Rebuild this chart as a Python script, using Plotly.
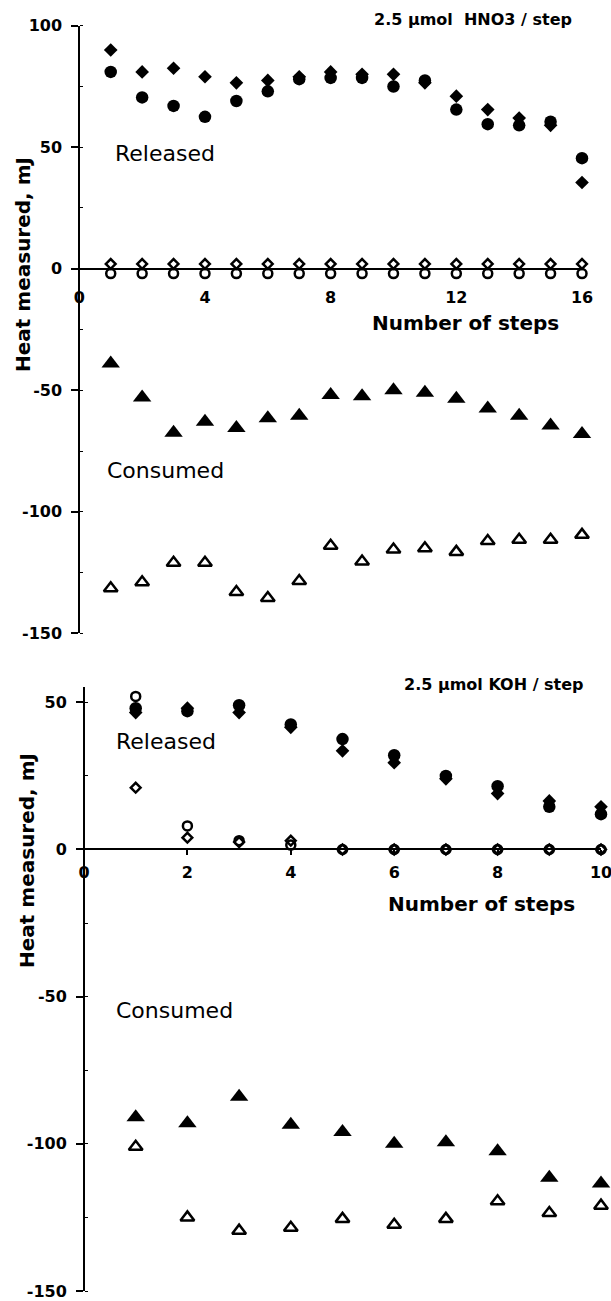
import plotly.graph_objects as go

W, H = 611, 1301

# ---------------- data: top panel (2.5 umol HNO3 / step) ----------------
steps_hno3 = [1, 2, 3, 4, 5, 6, 7, 8, 9, 10, 11, 12, 13, 14, 15, 16]
released_circle_hno3 = [81, 70.5, 67, 62.5, 69, 73, 78, 78.5, 78.5, 75, 77.5, 65.5, 59.5, 59, 60.5, 45.5]
released_diamond_hno3 = [90, 81, 82.5, 79, 76.5, 77.5, 79, 81, 80, 80, 76.5, 71, 65.5, 62, 59, 35.5]
open_diamond_hno3 = [2, 2, 2, 2, 2, 2, 2, 2, 2, 2, 2, 2, 2, 2, 2, 2]
open_circle_hno3 = [-2, -2, -2, -2, -2, -2, -2, -2, -2, -2, -2, -2, -2, -2, -2, -2]
consumed_filled_hno3 = [-39, -53, -67.5, -63, -65.5, -61.5, -60.5, -52, -52.5, -50, -51, -53.5, -57.5, -60.5, -64.5, -68]
consumed_open_hno3 = [-131.5, -129, -121, -121, -133, -135.5, -128.5, -114, -120.5, -115.5, -115, -116.5, -112, -111.5, -111.5, -109.5]
xticks_hno3 = [0, 4, 8, 12, 16]
yticks_hno3 = [-150, -100, -50, 0, 50, 100]
yticklabels_hno3 = ["-150", "-100", "-50", "0", "50", "100"]

# ---------------- data: bottom panel (2.5 umol KOH / step) ----------------
steps_koh = [1, 2, 3, 4, 5, 6, 7, 8, 9, 10]
released_circle_koh = [48, 47, 49, 42.5, 37.5, 32, 25, 21.5, 14.5, 12]
released_diamond_koh = [46.5, 48, 46.5, 41.5, 33.5, 29.5, 24, 19, 16.5, 14.5]
open_circle_koh = [52, 8, 3, 1.5, 0, 0, 0, 0, 0, 0]
open_diamond_koh = [21, 4, 2.5, 3, 0, 0, 0, 0, 0, 0]
consumed_filled_koh = [-91, -93, -84, -93.5, -96, -100, -99.5, -102.5, -111.5, -113.5]
consumed_open_koh = [-101, -125, -129.5, -128.5, -125.5, -127.5, -125.5, -119.5, -123.5, -121]
xticks_koh = [0, 2, 4, 6, 8, 10]
yticks_koh = [-150, -100, -50, 0, 50]
yticklabels_koh = ["-150", "-100", "-50", "0", "50"]

FONT = "DejaVu Sans"


def fx(p):
    return p / W


def fy(p):
    return 1 - p / H


fig = go.Figure()


def add(xa, ya, x, y, symbol, size, lw=0):
    fig.add_trace(go.Scatter(
        x=x, y=y, mode="markers", xaxis=xa, yaxis=ya, showlegend=False,
        hoverinfo="skip", cliponaxis=False,
        marker=dict(symbol=symbol, size=size, color="black",
                    line=dict(color="black", width=lw))))


# top panel
add("x", "y", steps_hno3, released_circle_hno3, "circle", 12.5)
add("x", "y", steps_hno3, released_diamond_hno3, "diamond", 10.5)
add("x", "y", steps_hno3, open_circle_hno3, "circle-open", 9, 2.5)
add("x", "y", steps_hno3, open_diamond_hno3, "diamond-open", 7.5, 2.5)
add("x", "y", steps_hno3, consumed_filled_hno3, "triangle-up", 16)
add("x", "y", steps_hno3, consumed_open_hno3, "triangle-up-open", 12, 2.5)

# bottom panel
add("x2", "y2", steps_koh, released_circle_koh, "circle", 12.5)
add("x2", "y2", steps_koh, released_diamond_koh, "diamond", 10.5)
add("x2", "y2", steps_koh, open_circle_koh, "circle-open", 9, 2.5)
add("x2", "y2", steps_koh, open_diamond_koh, "diamond-open", 7.5, 2.5)
add("x2", "y2", steps_koh, consumed_filled_koh, "triangle-up", 16)
add("x2", "y2", steps_koh, consumed_open_koh, "triangle-up-open", 12, 2.5)

# geometry (pixels)
top_x0, top_x1 = 79.3, 582.0
top_ytop, top_ybot = 25.7, 633.3
top_range = [-150, 100]
bot_x0, bot_x1 = 84.0, 601.0
bot_ytop, bot_ybot = 686.7, 1291.0
bot_range = [-150, 55.3]


def zero_paper(ytop, ybot, rng):
    frac = (0 - rng[0]) / (rng[1] - rng[0])
    return fy(ybot) + frac * (fy(ytop) - fy(ybot))


tickfont = dict(family=FONT, size=16, color="black", weight="bold")


def xaxis(x0, x1, rng, pos, vals, ticks, ticklen, standoff):
    return dict(domain=[fx(x0), fx(x1)], range=rng, anchor="free", position=pos,
                showline=True, linecolor="black", linewidth=2, showgrid=False,
                zeroline=False, tickmode="array", tickvals=vals, ticks=ticks,
                ticklen=ticklen, tickwidth=1.5, tickcolor="black",
                tickfont=tickfont, ticklabelstandoff=standoff, fixedrange=True,
                automargin=False, ticklabeloverflow="allow")


def yaxis(ytop, ybot, rng, x0, vals, texts):
    return dict(domain=[fy(ybot), fy(ytop)], range=rng, anchor="free",
                position=fx(x0), showline=True, linecolor="black", linewidth=2,
                showgrid=False, zeroline=False, tickmode="array", tickvals=vals,
                ticktext=texts, ticks="outside", ticklen=7, tickwidth=1.5,
                tickcolor="black", tickfont=tickfont, ticklabelstandoff=6,
                minor=dict(dtick=25, tick0=0, ticks="inside", ticklen=3,
                           tickwidth=1, tickcolor="black"),
                fixedrange=True, automargin=False, ticklabeloverflow="allow")


def yaxis_inner(over, ytop, ybot, rng, x0, vals):
    return dict(overlaying=over, domain=[fy(ybot), fy(ytop)], range=rng,
                anchor="free", position=fx(x0), showline=False, showgrid=False,
                zeroline=False, tickmode="array", tickvals=vals,
                ticks="inside", ticklen=6, tickwidth=1.5, tickcolor="black",
                showticklabels=False, fixedrange=True, automargin=False)


z_top = zero_paper(top_ytop, top_ybot, top_range)
z_bot = zero_paper(bot_ytop, bot_ybot, bot_range)

annotations = []


def label(text, xp, yp, size=22, weight="normal", angle=0):
    annotations.append(dict(text=text, xref="paper", yref="paper", x=fx(xp), y=fy(yp),
                            xanchor="center", yanchor="middle", showarrow=False,
                            textangle=angle,
                            font=dict(family=FONT, size=size, color="black", weight=weight)))


label("2.5 \u00b5mol\u00a0 HNO3 / step", 472.5, 20, size=16, weight="bold")
label("Released", 165, 153)
label("Number of steps", 465, 323, size=20, weight="bold")
label("Consumed", 165.5, 470)
label("Heat measured, mJ", 23.5, 264.5, size=20, weight="bold", angle=-90)

label("2.5 \u00b5mol KOH / step", 493.5, 684.5, size=16, weight="bold")
label("Released", 165.5, 741)
label("Number of steps", 481, 904, size=20, weight="bold")
label("Consumed", 174, 1010)
label("Heat measured, mJ", 27, 861, size=20, weight="bold", angle=-90)

fig.update_layout(
    width=W, height=H, margin=dict(l=0, r=0, t=0, b=0, autoexpand=False),
    paper_bgcolor="white", plot_bgcolor="white", showlegend=False,
    xaxis=xaxis(top_x0, top_x1, [0, 16], z_top, xticks_hno3, "", 0, 14),
    yaxis=yaxis(top_ytop, top_ybot, top_range, top_x0, yticks_hno3, yticklabels_hno3),
    yaxis3=yaxis_inner("y", top_ytop, top_ybot, top_range, top_x0, yticks_hno3),
    xaxis2=xaxis(bot_x0, bot_x1, [0, 10], z_bot, xticks_koh, "outside", 5, 3),
    yaxis2=yaxis(bot_ytop, bot_ybot, bot_range, bot_x0, yticks_koh, yticklabels_koh),
    yaxis4=yaxis_inner("y2", bot_ytop, bot_ybot, bot_range, bot_x0, yticks_koh),
    annotations=annotations,
)

fig.write_html(
    "out.html",
    post_script="document.body.style.margin='0';document.body.style.overflow='hidden';",
)
